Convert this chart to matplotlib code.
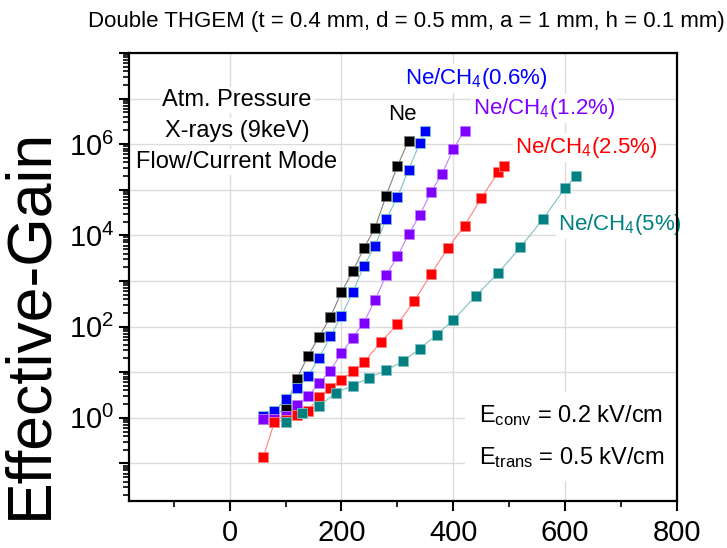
import numpy as np
import matplotlib
matplotlib.use("Agg")
import matplotlib.pyplot as plt
from matplotlib.patches import Rectangle
from matplotlib.ticker import FixedLocator, FuncFormatter, LogLocator, NullFormatter

plt.rcParams["font.family"] = ["Liberation Sans", "DejaVu Sans"]
plt.rcParams["mathtext.fontset"] = "custom"
plt.rcParams["mathtext.rm"] = "Liberation Sans"
plt.rcParams["mathtext.it"] = "Liberation Sans:italic"
plt.rcParams["mathtext.bf"] = "Liberation Sans:bold"

# voltage (V) and effective gain per gas mixture
ne_v = [60, 80, 100, 120, 140, 160, 180, 200, 220, 240, 260, 280, 300, 320]
ne_g = [0.93, 1.05, 1.7, 7.0, 23, 60, 160, 575, 1620, 5200, 14700, 75000, 3.3e5, 1.2e6]

ch06_v = [60, 80, 100, 120, 140, 160, 180, 200, 220, 240, 260, 280, 300, 320, 340, 350]
ch06_g = [1.07, 1.42, 2.55, 4.6, 8.2, 20.4, 61, 174, 560, 2120, 6000, 22600, 69000,
          2.77e5, 1.05e6, 1.9e6]

ch12_v = [60, 80, 100, 120, 140, 160, 180, 200, 220, 240, 260, 280, 300, 320, 340,
          360, 380, 400, 420]
ch12_g = [0.94, 0.94, 1.07, 1.89, 3.0, 5.7, 10.9, 26, 57, 123, 380, 1350, 3450, 10700,
          27600, 89000, 2.25e5, 7.9e5, 1.95e6]

ch25_v = [60, 80, 100, 120, 140, 160, 180, 200, 220, 240, 270, 300, 330, 360, 390,
          420, 450, 480, 490]
ch25_g = [0.137, 0.8, 0.89, 1.16, 1.42, 2.86, 4.6, 6.8, 10.5, 16.8, 45, 112, 363, 1420,
          5200, 16300, 66000, 2.4e5, 3.3e5]

ch5_v = [100, 130, 160, 190, 220, 250, 280, 310, 340, 370, 400, 440, 480, 520, 560,
         600, 620]
ch5_g = [0.8, 1.28, 1.82, 3.55, 5.1, 7.6, 11, 17.4, 33, 66, 140, 470, 1490, 5500,
         22600, 1.1e5, 2.05e5]

# (x, y, marker colour, line colour)
series = [
    (ne_v, ne_g, "#000000", "#808080"),
    (ch06_v, ch06_g, "#0000ff", "#7fc4c4"),
    (ch12_v, ch12_g, "#8000ff", "#c080ff"),
    (ch25_v, ch25_g, "#ff0000", "#ff8080"),
    (ch5_v, ch5_g, "#008080", "#80c0c0"),
]

W, H = 727, 548
fig = plt.figure(figsize=(W / 100, H / 100), dpi=100)
ax = fig.add_axes([129 / W, 1 - 501 / H, 548 / W, 448 / H])

for x, y, mc, lc in series:
    ax.plot(x, y, color=lc, lw=0.8, zorder=2)
    ax.plot(x, y, ls="none", marker="s", ms=7.2, mfc=mc, mec=lc, mew=0.6, zorder=3)

ax.set_yscale("log")
ax.set_xlim(-180, 800)
ax.set_ylim(0.015, 1e8)

ax.xaxis.set_major_locator(FixedLocator([-200, 0, 200, 400, 600, 800]))
ax.xaxis.set_minor_locator(FixedLocator([-100, 100, 300, 500, 700]))
ax.yaxis.set_major_locator(LogLocator(base=10, numticks=20))
ax.yaxis.set_minor_locator(LogLocator(base=10, subs=np.arange(2, 10), numticks=20))
ax.yaxis.set_minor_formatter(NullFormatter())


def ylab(v, pos):
    e = int(round(np.log10(v)))
    return r"$10^{%d}$" % e if e % 2 == 0 and 0 <= e <= 6 else ""


ax.yaxis.set_major_formatter(FuncFormatter(ylab))
ax.tick_params(axis="both", which="major", direction="out", length=7, width=1.5,
               labelsize=21, top=False, right=False)
ax.tick_params(axis="x", which="major", pad=6)
ax.tick_params(axis="both", which="minor", direction="out", length=4, width=1.2,
               top=False, right=False)
for s in ax.spines.values():
    s.set_linewidth(1.6)

ax.grid(True, which="major", color="#dcdcdc", lw=1.0)
ax.set_axisbelow(True)


def put(px, py, s, **kw):
    # place a text at reference pixel position (baseline)
    kw.setdefault("va", "baseline")
    return ax.text(px / W, 1 - py / H, s, transform=fig.transFigure, clip_on=False,
                   zorder=2.2, **kw)


box = dict(facecolor="white", edgecolor="none", pad=1.5)

fig.text(30 / W, 1 - 323 / H, "Effective-Gain", rotation=90, fontsize=45,
         ha="center", va="center")
fig.text(406 / W, 1 - 22 / H, "Double THGEM (t = 0.4 mm, d = 0.5 mm, a = 1 mm, h = 0.1 mm)",
         fontsize=16, ha="center", va="center")

for line, yb in zip(["Atm. Pressure", "X-rays (9keV)", "Flow/Current Mode"], [106, 137, 168]):
    put(237, yb, line, fontsize=17, ha="center", bbox=box)

put(388, 120, "Ne", fontsize=16, color="#000000", bbox=box)
put(405, 84, r"Ne/CH$_4$(0.6%)", fontsize=16, color="#0000ff", bbox=box)
put(473, 114, r"Ne/CH$_4$(1.2%)", fontsize=16, color="#8000ff", bbox=box)
put(515, 153, r"Ne/CH$_4$(2.5%)", fontsize=16, color="#ff0000", bbox=box)
put(558, 230, r"Ne/CH$_4$(5%)", fontsize=16, color="#008080", bbox=box)

# white panel behind the field annotations (hides the grid there)
ax.add_patch(Rectangle((465 / W, 1 - 481 / H), 211 / W, 89 / H, transform=fig.transFigure,
                       facecolor="white", edgecolor="none", zorder=2.1))
put(479, 422, r"E$_{\mathrm{conv}}$ = 0.2 kV/cm", fontsize=17)
put(479, 464, r"E$_{\mathrm{trans}}$ = 0.5 kV/cm", fontsize=17)

fig.savefig("out.png", dpi=100)
